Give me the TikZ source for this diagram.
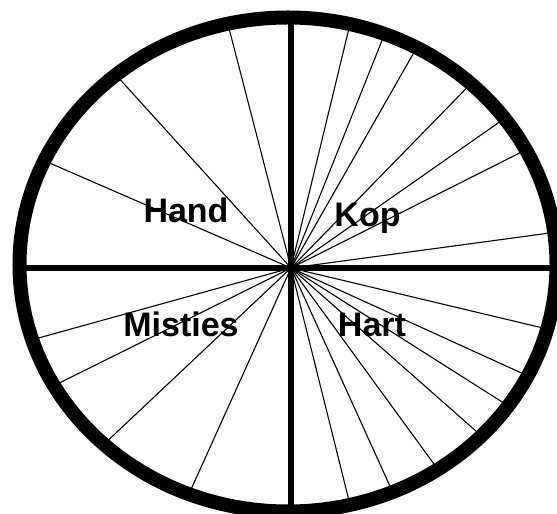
\documentclass[tikz,border=0pt]{standalone}
\usepackage{fontspec}
\setmainfont{Liberation Sans}

\begin{document}
\begin{tikzpicture}[x=1pt,y=1pt,
  ring/.style={line width=14pt},
  bar/.style={line width=6.5pt},
  spoke/.style={line width=1.1pt},
  lbl/.style={font=\fontsize{34}{40}\selectfont\bfseries,anchor=base,inner sep=0pt}]
  \useasboundingbox (0,0) rectangle (557,514);
  \coordinate (o) at (291,246);
  \coordinate (m) at (288,249.5);
  \begin{scope}
    \clip (m) ellipse [x radius=268.5,y radius=247];
    % spokes, by quarter
    \foreach \a in {7.7,26.7,35.0,45.7,60.3,68.2,76.4,
                    104.5,132.2,156.5,
                    195.5,206.4,223.3,245.7,
                    284.0,294.4,306.1,318.6,327.6,335.5,346.6}
      \draw[spoke] (o) -- ++(\a:400);
    \foreach \a in {0,90,180,270}
      \draw[bar] (o) -- ++(\a:400);
  \end{scope}
  \draw[ring] (m) ellipse [x radius=268.5,y radius=247];
  \node[lbl] (hand) at (186,291) {Hand};
  \node[lbl] (kop) at (367.5,287) {Kop};
  \node[lbl] (misties) at (181,177) {Misties};
  \node[lbl] (hart) at (372,177) {Hart};
\end{tikzpicture}
\end{document}
